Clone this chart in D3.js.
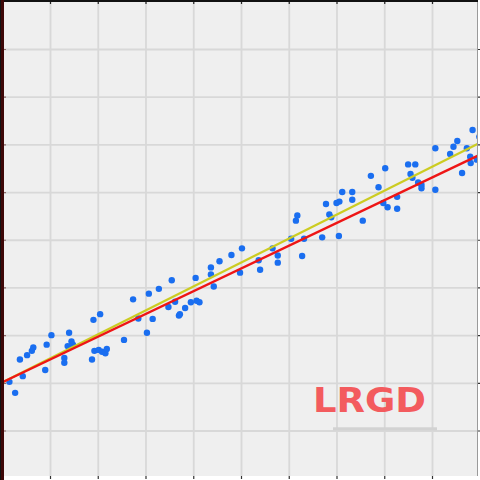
<!DOCTYPE html>
<html><head><meta charset="utf-8">
<script src="https://cdn.jsdelivr.net/npm/d3@7"></script>
<style>html,body{margin:0;padding:0;background:#fff;}svg{display:block;}</style>
</head><body>
<svg id="chart" width="480" height="480"></svg>
<script>
const pointX = [0.15,0.27,0.43,0.37,0.52,0.62,0.65,0.90,0.93,1.03,1.30,1.30,1.37,1.40,1.45,1.48,1.88,1.93,2.02,2.09,2.16,2.19,1.91,2.05,2.55,2.74,2.85,3.03,3.15,3.07,3.28,3.48,3.55,3.62,3.70,3.72,3.83,3.95,4.05,4.07,4.13,4.37,4.37,4.43,4.55,4.80,4.98,5.02,5.37,5.40,5.66,5.77,5.77,6.05,6.15,6.18,6.28,6.32,6.70,6.78,6.85,6.89,7.00,7.06,7.05,7.12,7.33,7.33,7.55,7.72,7.88,7.98,8.02,8.07,8.27,8.27,8.50,8.65,8.55,8.59,8.71,8.78,8.78,9.07,9.07,9.38,9.45,9.53,9.63,9.73,9.80,9.81,9.85,9.94,9.99,10.00];
const pointY = [2.02,1.79,2.14,2.49,2.58,2.67,2.74,2.27,2.80,3.00,2.52,2.42,2.77,3.05,2.87,2.80,2.49,2.67,2.69,2.65,2.62,2.71,3.32,3.44,2.90,3.75,3.35,3.05,3.34,3.87,3.97,3.59,4.15,3.70,3.41,3.44,3.57,3.69,4.20,3.72,3.69,4.42,4.27,4.02,4.55,4.68,4.31,4.82,4.57,4.37,4.82,4.67,4.52,5.02,5.40,5.51,4.66,5.02,5.05,5.75,5.53,5.47,5.77,5.80,5.08,6.00,6.00,5.84,5.40,6.34,6.10,5.77,6.50,5.68,5.90,5.65,6.58,6.58,6.38,6.30,6.20,6.15,6.08,6.05,6.92,6.80,6.95,7.07,6.40,6.92,6.74,6.61,7.30,6.68,7.16,6.69];
const lineX = [0, 10];
const yellowY = [2.01, 7.03];
const redY = [2.01, 6.78];
const gridTicks = [1,2,3,4,5,6,7,8,9];
const titleText = "LRGD";

const svg = d3.select("#chart");
const x = d3.scaleLinear().domain([0,10]).range([2.25, 479.75]);
const y = d3.scaleLinear().domain([0,10]).range([478.2, 1.3]);

svg.append("rect").attr("width",480).attr("height",480).attr("fill","#fff");
svg.append("defs").append("clipPath").attr("id","plot")
  .append("rect").attr("x",4).attr("y",2).attr("width",474).attr("height",474);
svg.append("rect").attr("x",4).attr("y",2).attr("width",474).attr("height",474).attr("fill","#efefef");

const g = svg.append("g").attr("clip-path","url(#plot)");
// grid
g.append("g").attr("transform","translate(0,0)")
  .call(d3.axisBottom(x).tickValues(gridTicks).tickSize(480).tickFormat(""))
  .call(s=>{s.select(".domain").remove(); s.selectAll("line").attr("stroke","#d8d8d8").attr("stroke-width",1.8);});
g.append("g")
  .call(d3.axisRight(y).tickValues(gridTicks).tickSize(480).tickFormat(""))
  .call(s=>{s.select(".domain").remove(); s.selectAll("line").attr("stroke","#d8d8d8").attr("stroke-width",1.8);});

// LRGD label underline shadow
g.append("rect").attr("x",333).attr("y",427.3).attr("width",104).attr("height",3).attr("fill","#d2d2d2");
// points
g.selectAll("circle").data(pointX.map((d,i)=>[d,pointY[i]])).join("circle")
  .attr("cx",d=>x(d[0])).attr("cy",d=>y(d[1])).attr("r",3.2).attr("fill","#1a6ef0");
// lines
const line = d3.line().x(d=>x(d[0])).y(d=>y(d[1]));
g.append("path").attr("d",line(lineX.map((d,i)=>[d,yellowY[i]]))).attr("stroke","#cccc22").attr("stroke-width",2.2).attr("fill","none");
g.append("path").attr("d",line(lineX.map((d,i)=>[d,redY[i]]))).attr("stroke","#ee1515").attr("stroke-width",2.4).attr("fill","none");

// label
svg.append("text").attr("x",313).attr("y",412).text(titleText)
  .attr("font-family","DejaVu Sans").attr("font-weight","bold").attr("font-size",34)
  .attr("textLength",113).attr("lengthAdjust","spacingAndGlyphs").attr("fill","#f35b5e");

// frame
svg.append("rect").attr("x",4).attr("y",0).attr("width",474).attr("height",2).attr("fill","#111");
svg.append("rect").attr("x",0).attr("y",0).attr("width",4).attr("height",480).attr("fill","#3d0707");
svg.append("rect").attr("x",0).attr("y",0).attr("width",1).attr("height",480).attr("fill","#111");
svg.append("line").attr("x1",477.5).attr("x2",477.5).attr("y1",2).attr("y2",476).attr("stroke","#9a9a9a").attr("stroke-width",1);

// ticks
svg.append("g").attr("transform","translate(0,2)")
  .call(d3.axisBottom(x).tickValues(gridTicks).tickSize(2).tickFormat(""))
  .call(s=>{s.select(".domain").remove(); s.selectAll("line").attr("stroke","#222").attr("stroke-width",1.2);});
svg.append("g").attr("transform","translate(0,476)")
  .call(d3.axisBottom(x).tickValues(gridTicks).tickSize(3).tickFormat(""))
  .call(s=>{s.select(".domain").remove(); s.selectAll("line").attr("stroke","#333").attr("stroke-width",1.2);});
svg.append("g").attr("transform","translate(4,0)")
  .call(d3.axisRight(y).tickValues(gridTicks).tickSize(2).tickFormat(""))
  .call(s=>{s.select(".domain").remove(); s.selectAll("line").attr("stroke","#8a6a6a").attr("stroke-width",1.2);});
svg.append("g").attr("transform","translate(478,0)")
  .call(d3.axisRight(y).tickValues(gridTicks).tickSize(2).tickFormat(""))
  .call(s=>{s.select(".domain").remove(); s.selectAll("line").attr("stroke","#333").attr("stroke-width",1.2);});
</script>
</body></html>
